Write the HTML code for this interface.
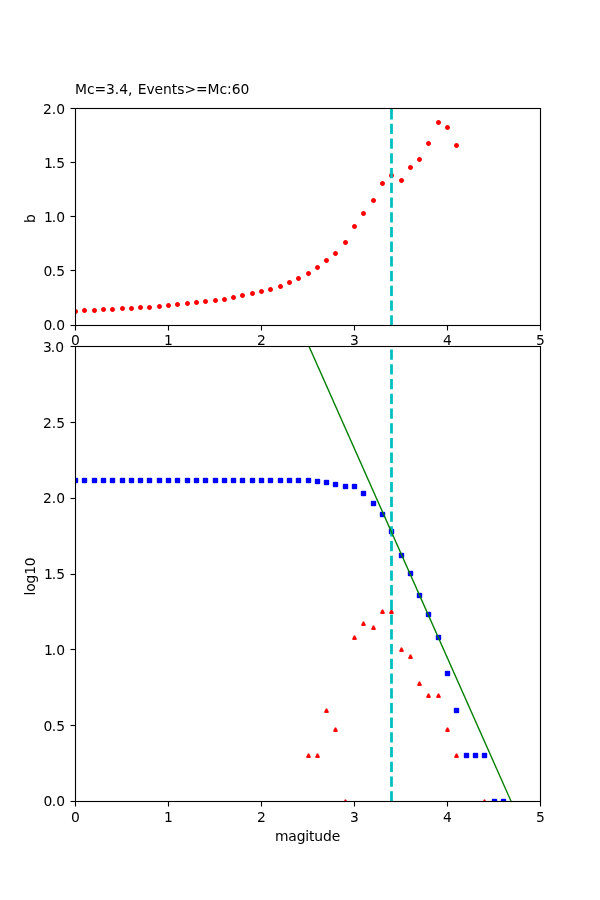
<!DOCTYPE html>
<html lang="en"><head><meta charset="utf-8"><title>Mc=3.4, Events&gt;=Mc:60</title>
<style>html,body{margin:0;padding:0;background:#fff;overflow:hidden}svg{display:block}text{fill:#000;font-family:"DejaVu Sans","Liberation Sans",sans-serif;font-size:13.889px}.px{shape-rendering:crispEdges}</style>
</head><body>
<svg width="600" height="900" viewBox="0 0 600 900">
<rect width="600" height="900" fill="#fff"/>
<defs>
<clipPath id="c1"><rect x="75" y="108" width="465" height="217"/></clipPath>
<clipPath id="c2"><rect x="75" y="346" width="465" height="455"/></clipPath>
<g id="dot" class="px" fill="#f00">
<path fill-opacity=".09" d="M-2.5 -2.5h1v1h-1zM1.5 -2.5h1v1h-1zM-2.5 1.5h1v1h-1zM1.5 1.5h1v1h-1z"/>
<path fill-opacity=".718" d="M-1.5 -2.5h1v1h-1zM0.5 -2.5h1v1h-1zM-1.5 1.5h1v1h-1zM0.5 1.5h1v1h-1zM-2.5 -1.5h1v1h-1zM-2.5 0.5h1v1h-1zM1.5 -1.5h1v1h-1zM1.5 0.5h1v1h-1z"/>
<path fill-opacity=".929" d="M-0.5 -2.5h1v1h-1zM-0.5 1.5h1v1h-1zM-2.5 -0.5h1v1h-1zM1.5 -0.5h1v1h-1z"/>
<rect x="-1.5" y="-1.5" width="3" height="3"/>
</g>
<g id="sq" class="px" fill="#00f">
<path fill-opacity=".196" d="M-1.5 -3.5h3v1h-3zM-1.5 2.5h3v1h-3zM-3.5 -1.5h1v3h-1zM2.5 -1.5h1v3h-1z"/>
<path fill-opacity=".118" d="M-2.5 -3.5h1v1h-1zM1.5 -3.5h1v1h-1zM-2.5 2.5h1v1h-1zM1.5 2.5h1v1h-1zM-3.5 -2.5h1v1h-1zM-3.5 1.5h1v1h-1zM2.5 -2.5h1v1h-1zM2.5 1.5h1v1h-1z"/>
<rect x="-2.5" y="-2.5" width="5" height="5"/>
</g>
<g id="tri" class="px" fill="#f00">
<path fill-opacity=".145" d="M-1.5 -2.5h1v1h-1zM0.5 -2.5h1v1h-1zM-2.5 -0.5h1v1h-1zM1.5 -0.5h1v1h-1z"/>
<path fill-opacity=".56" d="M-0.5 -2.5h1v1h-1zM-2.5 1.5h1v1h-1zM1.5 1.5h1v1h-1z"/>
<path fill-opacity=".65" d="M-1.5 -1.5h1v1h-1zM0.5 -1.5h1v1h-1zM-2.5 0.5h1v1h-1zM1.5 0.5h1v1h-1z"/>
<path d="M-.5 -1.5h1v1h1v2h-3v-2h1z"/>
<rect x="-1.5" y="1.5" width="3" height="1" fill-opacity=".95"/>
</g>
</defs>
<g clip-path="url(#c1)">
<use href="#dot" x="75.5" y="311.5"/>
<use href="#dot" x="84.5" y="310.5"/>
<use href="#dot" x="94.5" y="310.5"/>
<use href="#dot" x="103.5" y="309.5"/>
<use href="#dot" x="112.5" y="309.5"/>
<use href="#dot" x="122.5" y="308.5"/>
<use href="#dot" x="131.5" y="308.5"/>
<use href="#dot" x="140.5" y="307.5"/>
<use href="#dot" x="149.5" y="307.5"/>
<use href="#dot" x="159.5" y="306.5"/>
<use href="#dot" x="168.5" y="305.5"/>
<use href="#dot" x="177.5" y="304.5"/>
<use href="#dot" x="187.5" y="303.5"/>
<use href="#dot" x="196.5" y="302.5"/>
<use href="#dot" x="205.5" y="301.5"/>
<use href="#dot" x="215.5" y="300.5"/>
<use href="#dot" x="224.5" y="299.5"/>
<use href="#dot" x="233.5" y="297.5"/>
<use href="#dot" x="242.5" y="295.5"/>
<use href="#dot" x="252.5" y="293.5"/>
<use href="#dot" x="261.5" y="291.5"/>
<use href="#dot" x="270.5" y="289.5"/>
<use href="#dot" x="280.5" y="286.5"/>
<use href="#dot" x="289.5" y="282.5"/>
<use href="#dot" x="298.5" y="278.5"/>
<use href="#dot" x="308.5" y="273.5"/>
<use href="#dot" x="317.5" y="267.5"/>
<use href="#dot" x="326.5" y="260.5"/>
<use href="#dot" x="335.5" y="253.5"/>
<use href="#dot" x="345.5" y="242.5"/>
<use href="#dot" x="354.5" y="226.5"/>
<use href="#dot" x="363.5" y="213.5"/>
<use href="#dot" x="373.5" y="200.5"/>
<use href="#dot" x="382.5" y="183.5"/>
<use href="#dot" x="391.5" y="175.5"/>
<use href="#dot" x="401.5" y="180.5"/>
<use href="#dot" x="410.5" y="167.5"/>
<use href="#dot" x="419.5" y="159.5"/>
<use href="#dot" x="428.5" y="143.5"/>
<use href="#dot" x="438.5" y="122.5"/>
<use href="#dot" x="447.5" y="127.5"/>
<use href="#dot" x="456.5" y="145.5"/>
<line x1="391.5" y1="325.5" x2="391.5" y2="108.5" stroke="#00bfbf" stroke-width="2.778" stroke-dasharray="10.278 4.444"/>
</g>
<g clip-path="url(#c2)">
<use href="#tri" x="308.5" y="755.5"/>
<use href="#tri" x="317.5" y="755.5"/>
<use href="#tri" x="326.5" y="710.5"/>
<use href="#tri" x="335.5" y="729.5"/>
<use href="#tri" x="345.5" y="801.5"/>
<use href="#tri" x="354.5" y="637.5"/>
<use href="#tri" x="363.5" y="623.5"/>
<use href="#tri" x="373.5" y="627.5"/>
<use href="#tri" x="382.5" y="611.5"/>
<use href="#tri" x="391.5" y="611.5"/>
<use href="#tri" x="401.5" y="649.5"/>
<use href="#tri" x="410.5" y="656.5"/>
<use href="#tri" x="419.5" y="683.5"/>
<use href="#tri" x="428.5" y="695.5"/>
<use href="#tri" x="438.5" y="695.5"/>
<use href="#tri" x="447.5" y="729.5"/>
<use href="#tri" x="456.5" y="755.5"/>
<use href="#tri" x="484.5" y="801.5"/>
<use href="#tri" x="503.5" y="801.5"/>
<use href="#sq" x="75.5" y="480.5"/>
<use href="#sq" x="84.5" y="480.5"/>
<use href="#sq" x="94.5" y="480.5"/>
<use href="#sq" x="103.5" y="480.5"/>
<use href="#sq" x="112.5" y="480.5"/>
<use href="#sq" x="122.5" y="480.5"/>
<use href="#sq" x="131.5" y="480.5"/>
<use href="#sq" x="140.5" y="480.5"/>
<use href="#sq" x="149.5" y="480.5"/>
<use href="#sq" x="159.5" y="480.5"/>
<use href="#sq" x="168.5" y="480.5"/>
<use href="#sq" x="177.5" y="480.5"/>
<use href="#sq" x="187.5" y="480.5"/>
<use href="#sq" x="196.5" y="480.5"/>
<use href="#sq" x="205.5" y="480.5"/>
<use href="#sq" x="215.5" y="480.5"/>
<use href="#sq" x="224.5" y="480.5"/>
<use href="#sq" x="233.5" y="480.5"/>
<use href="#sq" x="242.5" y="480.5"/>
<use href="#sq" x="252.5" y="480.5"/>
<use href="#sq" x="261.5" y="480.5"/>
<use href="#sq" x="270.5" y="480.5"/>
<use href="#sq" x="280.5" y="480.5"/>
<use href="#sq" x="289.5" y="480.5"/>
<use href="#sq" x="298.5" y="480.5"/>
<use href="#sq" x="308.5" y="480.5"/>
<use href="#sq" x="317.5" y="481.5"/>
<use href="#sq" x="326.5" y="482.5"/>
<use href="#sq" x="335.5" y="484.5"/>
<use href="#sq" x="345.5" y="486.5"/>
<use href="#sq" x="354.5" y="486.5"/>
<use href="#sq" x="363.5" y="493.5"/>
<use href="#sq" x="373.5" y="503.5"/>
<use href="#sq" x="382.5" y="514.5"/>
<use href="#sq" x="391.5" y="531.5"/>
<use href="#sq" x="401.5" y="555.5"/>
<use href="#sq" x="410.5" y="573.5"/>
<use href="#sq" x="419.5" y="595.5"/>
<use href="#sq" x="428.5" y="614.5"/>
<use href="#sq" x="438.5" y="637.5"/>
<use href="#sq" x="447.5" y="673.5"/>
<use href="#sq" x="456.5" y="710.5"/>
<use href="#sq" x="466.5" y="755.5"/>
<use href="#sq" x="475.5" y="755.5"/>
<use href="#sq" x="484.5" y="755.5"/>
<use href="#sq" x="494.5" y="801.5"/>
<use href="#sq" x="503.5" y="801.5"/>
<line x1="391.5" y1="801.5" x2="391.5" y2="346.5" stroke="#00bfbf" stroke-width="2.778" stroke-dasharray="10.278 4.444"/>
<line x1="75.000" y1="-180.350" x2="540.000" y2="866.405" stroke="#008000" stroke-width="1.389"/>
</g>
<g fill="#000">
<rect x="74.945" y="108" width="1.11" height="218"/>
<rect x="539.945" y="108" width="1.11" height="218"/>
<rect x="70.5" y="108" width="470.555" height="1"/><rect x="70.5" y="107" width="470.555" height="1" fill-opacity=".055"/><rect x="70.5" y="109" width="470.555" height="1" fill-opacity=".055"/>
<rect x="70.5" y="325" width="470.555" height="1"/><rect x="70.5" y="324" width="470.555" height="1" fill-opacity=".055"/><rect x="70.5" y="326" width="470.555" height="1" fill-opacity=".055"/>
<rect x="70.5" y="270" width="4.5" height="1"/><rect x="70.5" y="269" width="4.5" height="1" fill-opacity=".055"/><rect x="70.5" y="271" width="4.5" height="1" fill-opacity=".055"/>
<rect x="70.5" y="216" width="4.5" height="1"/><rect x="70.5" y="215" width="4.5" height="1" fill-opacity=".055"/><rect x="70.5" y="217" width="4.5" height="1" fill-opacity=".055"/>
<rect x="70.5" y="162" width="4.5" height="1"/><rect x="70.5" y="161" width="4.5" height="1" fill-opacity=".055"/><rect x="70.5" y="163" width="4.5" height="1" fill-opacity=".055"/>
<rect x="74.945" y="326" width="1.11" height="4.5"/>
<rect x="167.945" y="326" width="1.11" height="4.5"/>
<rect x="260.945" y="326" width="1.11" height="4.5"/>
<rect x="353.945" y="326" width="1.11" height="4.5"/>
<rect x="446.945" y="326" width="1.11" height="4.5"/>
<rect x="539.945" y="326" width="1.11" height="4.5"/>
</g>
<g>
<text x="43.41 51.75 56.16" y="330">0.0</text>
<text x="43.41 51.75 56.16" y="276">0.5</text>
<text x="43.91 51.75 56.16" y="222">1.0</text>
<text x="43.91 51.75 56.16" y="168">1.5</text>
<text x="42.91 51.75 56.16" y="114">2.0</text>
</g>
<g text-anchor="middle">
<text x="75.5" y="345">0</text>
<text x="168.5" y="345">1</text>
<text x="261.5" y="345">2</text>
<text x="354.5" y="345">3</text>
<text x="447.5" y="345">4</text>
<text x="540.5" y="345">5</text>
</g>
<text x="75" y="93.5" letter-spacing="-0.05">Mc=3.4, <tspan dx="1">Events&gt;=Mc:60</tspan></text>
<text transform="translate(35,218.5) rotate(-90)" text-anchor="middle">b</text>
<g fill="#000">
<rect x="74.945" y="346" width="1.11" height="456"/>
<rect x="539.945" y="346" width="1.11" height="456"/>
<rect x="70.5" y="346" width="470.555" height="1"/><rect x="70.5" y="345" width="470.555" height="1" fill-opacity=".055"/><rect x="70.5" y="347" width="470.555" height="1" fill-opacity=".055"/>
<rect x="70.5" y="801" width="470.555" height="1"/><rect x="70.5" y="800" width="470.555" height="1" fill-opacity=".055"/><rect x="70.5" y="802" width="470.555" height="1" fill-opacity=".055"/>
<rect x="70.5" y="725" width="4.5" height="1"/><rect x="70.5" y="724" width="4.5" height="1" fill-opacity=".055"/><rect x="70.5" y="726" width="4.5" height="1" fill-opacity=".055"/>
<rect x="70.5" y="649" width="4.5" height="1"/><rect x="70.5" y="648" width="4.5" height="1" fill-opacity=".055"/><rect x="70.5" y="650" width="4.5" height="1" fill-opacity=".055"/>
<rect x="70.5" y="574" width="4.5" height="1"/><rect x="70.5" y="573" width="4.5" height="1" fill-opacity=".055"/><rect x="70.5" y="575" width="4.5" height="1" fill-opacity=".055"/>
<rect x="70.5" y="498" width="4.5" height="1"/><rect x="70.5" y="497" width="4.5" height="1" fill-opacity=".055"/><rect x="70.5" y="499" width="4.5" height="1" fill-opacity=".055"/>
<rect x="70.5" y="422" width="4.5" height="1"/><rect x="70.5" y="421" width="4.5" height="1" fill-opacity=".055"/><rect x="70.5" y="423" width="4.5" height="1" fill-opacity=".055"/>
<rect x="74.945" y="802" width="1.11" height="4.5"/>
<rect x="167.945" y="802" width="1.11" height="4.5"/>
<rect x="260.945" y="802" width="1.11" height="4.5"/>
<rect x="353.945" y="802" width="1.11" height="4.5"/>
<rect x="446.945" y="802" width="1.11" height="4.5"/>
<rect x="539.945" y="802" width="1.11" height="4.5"/>
</g>
<g>
<text x="43.41 51.75 56.16" y="806">0.0</text>
<text x="43.41 51.75 56.16" y="731">0.5</text>
<text x="43.91 51.75 56.16" y="655">1.0</text>
<text x="43.91 51.75 56.16" y="579">1.5</text>
<text x="42.91 51.75 56.16" y="503">2.0</text>
<text x="42.91 51.75 56.16" y="428">2.5</text>
<text x="42.91 50.75 55.16" y="352">3.0</text>
</g>
<g text-anchor="middle">
<text x="75.5" y="822">0</text>
<text x="168.5" y="822">1</text>
<text x="261.5" y="822">2</text>
<text x="354.5" y="822">3</text>
<text x="447.5" y="822">4</text>
<text x="540.5" y="822">5</text>
<text x="307.5" y="841" letter-spacing="-0.14">magitude</text>
</g>
<text transform="translate(35,576.5) rotate(-90)" text-anchor="middle" letter-spacing="-0.2">log10</text>
</svg></body></html>
